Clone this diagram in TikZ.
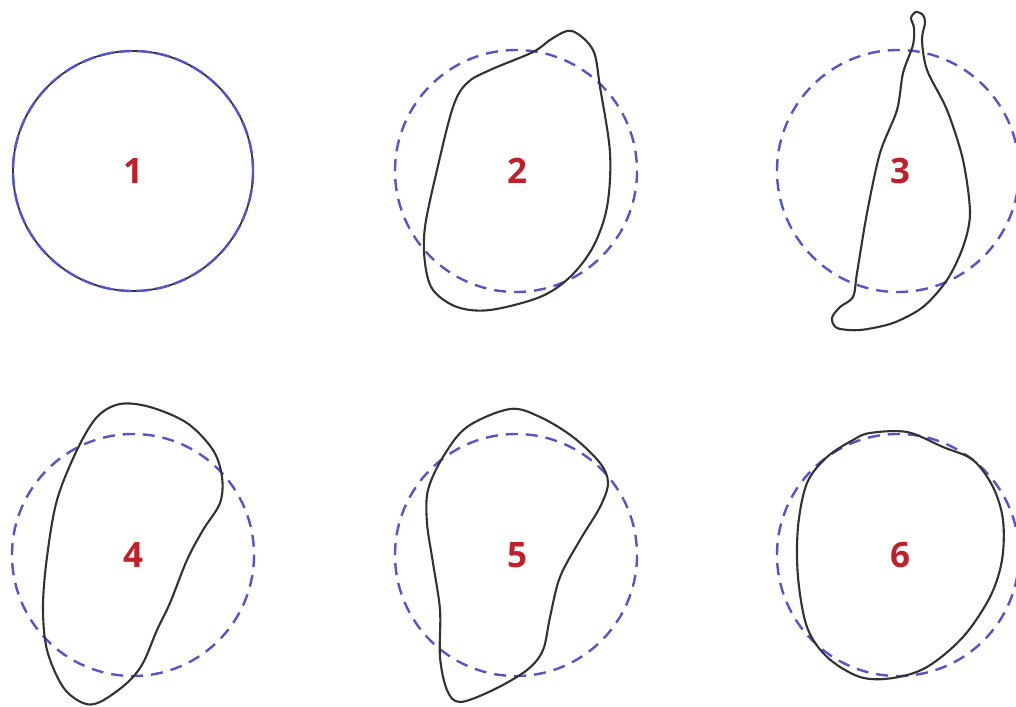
\documentclass[tikz,border=0pt]{standalone}
\usepackage{fontspec}
\setsansfont{Open Sans}
\usepackage{tikz}
\usetikzlibrary{positioning}
\definecolor{korkek}{RGB}{84,84,206}
\definecolor{szampiros}{RGB}{192,32,42}
\definecolor{vonal}{RGB}{50,50,50}
\tikzset{
  kor/.style={draw=korkek,line width=2.4pt,dash pattern=on 12pt off 8pt},
  gorbe/.style={draw=vonal,line width=2.1pt,line join=round},
  szam/.style={text=szampiros,font=\fontsize{35}{37}\selectfont\sffamily\bfseries,inner sep=0pt},
}

\begin{document}
\begin{tikzpicture}[x=1pt,y=-1pt]
  \useasboundingbox (0,0) rectangle (1016,706);
  \fill[white] (0,0) rectangle (1016,706);
  % felso sor
  \draw[gorbe,line width=1.8pt] (133,171) circle[radius=120];
  \draw[kor,dash pattern=on 14pt off 5pt] (133,171) circle[radius=120];
  \draw[kor] (516,171) circle[radius=121];
  \draw[kor] (898,171) circle[radius=121];
  \draw[gorbe] plot[smooth cycle,tension=0.55] coordinates {
    (572,31) (593,50) (600,87) (610,153) (607,207) (593,247) (570,277)
    (540,297) (490,310) (457,307) (433,290) (425,263) (425,227) (437,170)
    (453,107) (467,83) (490,70) (533,52) (553,38)};
  \draw[gorbe] plot[smooth cycle,tension=0.5] coordinates {
    (916,12) (923,15) (925,23) (922,40) (927,70) (947,110) (963,160)
    (970,213) (963,247) (947,280) (923,307) (893,323) (860,330) (837,328)
    (832,318) (840,307) (853,297) (857,273) (867,213) (880,153) (897,110)
    (903,73) (913,45) (914,28) (911,18)};
  \node[szam] (n1) at (133,171) {1};
  \node[szam] (n2) at (517,171) {2};
  \node[szam] (n3) at (900,171) {3};
  % also sor
  \draw[kor] (133,555) circle[radius=121];
  \draw[kor] (516,555) circle[radius=121];
  \draw[kor] (898,555) circle[radius=121];
  \draw[gorbe] plot[smooth cycle,tension=0.55] coordinates {
    (120,404) (150,407) (187,423) (213,450) (222,477) (220,503) (203,530)
    (187,560) (170,603) (157,630) (143,663) (127,683) (100,702) (83,703)
    (63,687) (47,650) (43,607) (47,557) (57,500) (77,450) (97,417)};
  \draw[gorbe] plot[smooth cycle,tension=0.55] coordinates {
    (510,409) (540,417) (573,437) (600,463) (608,483) (600,507) (580,540)
    (560,577) (550,617) (543,650) (527,670) (493,690) (460,702) (447,690)
    (440,657) (440,610) (433,563) (427,523) (428,490) (443,457) (467,427)};
  \draw[gorbe] plot[smooth cycle,tension=0.55] coordinates {
    (870,433) (907,432) (943,447) (973,460) (993,487) (1003,520) (1002,560)
    (990,597) (963,637) (927,667) (893,678) (860,677) (827,657) (807,627)
    (798,577) (798,527) (807,483) (827,457) (853,440)};
  \node[szam] (n4) at (133,555) {4};
  \node[szam] (n5) at (517,555) {5};
  \node[szam] (n6) at (900,555) {6};
\end{tikzpicture}
\end{document}
